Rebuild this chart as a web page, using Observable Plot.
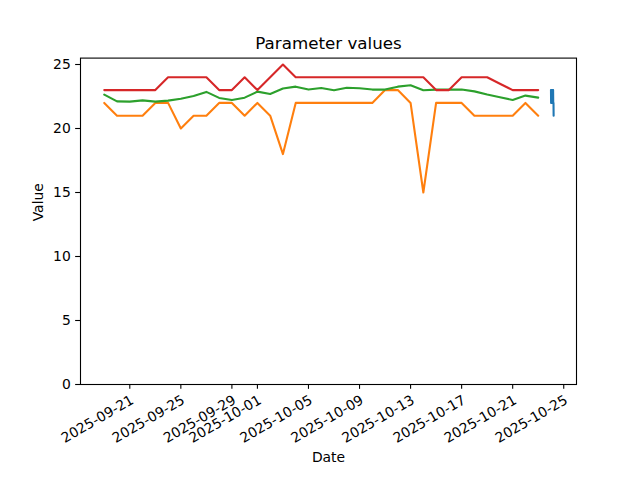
<!DOCTYPE html>
<html>
<head>
<meta charset="utf-8">
<script src="https://cdn.jsdelivr.net/npm/d3@7"></script>
<script src="https://cdn.jsdelivr.net/npm/@observablehq/plot@0.6"></script>
<style>
  html, body { margin: 0; padding: 0; background: #fff; }
  #chart svg { display: block; }
</style>
</head>
<body>
<div id="chart"></div>
<script>
// ---- Data ----
const days = [
  "2025-09-19","2025-09-20","2025-09-21","2025-09-22","2025-09-23","2025-09-24","2025-09-25",
  "2025-09-26","2025-09-27","2025-09-28","2025-09-29","2025-09-30","2025-10-01","2025-10-02",
  "2025-10-03","2025-10-04","2025-10-05","2025-10-06","2025-10-07","2025-10-08","2025-10-09",
  "2025-10-10","2025-10-11","2025-10-12","2025-10-13","2025-10-14","2025-10-15","2025-10-16",
  "2025-10-17","2025-10-18","2025-10-19","2025-10-20","2025-10-21","2025-10-22","2025-10-23"
];
const maxValues = [23,23,23,23,23,24,24,24,24,23,23,24,23,24,25,24,24,24,24,24,24,24,24,24,24,24,23,23,24,24,24,23.5,23,23,23];
const minValues = [22,21,21,21,22,22,20,21,21,22,22,21,22,21,18,22,22,22,22,22,22,22,23,23,22,15,22,22,22,21,21,21,21,22,21];
const meanValues = [22.65,22.12,22.1,22.2,22.1,22.18,22.33,22.54,22.86,22.39,22.23,22.41,22.88,22.7,23.12,23.27,23.04,23.16,22.99,23.19,23.14,23.04,23.04,23.27,23.38,22.99,23.04,23.04,23.04,22.9,22.65,22.44,22.23,22.57,22.41];

const rawTimes = [
  "2025-10-24T00:00Z","2025-10-24T00:15Z","2025-10-24T00:30Z","2025-10-24T00:45Z","2025-10-24T01:00Z",
  "2025-10-24T01:15Z","2025-10-24T01:30Z","2025-10-24T01:45Z","2025-10-24T02:00Z","2025-10-24T02:15Z",
  "2025-10-24T02:30Z","2025-10-24T02:45Z","2025-10-24T03:00Z","2025-10-24T03:15Z","2025-10-24T03:30Z",
  "2025-10-24T03:45Z","2025-10-24T04:00Z","2025-10-24T04:15Z","2025-10-24T04:30Z","2025-10-24T04:45Z",
  "2025-10-24T05:00Z"
];
const rawValues = [23,22,23,22,23,22,23,23,22,23,22,22,23,22,23,22,23,22,22,22,21];

const xTicks = ["2025-09-21","2025-09-25","2025-09-29","2025-10-01","2025-10-05","2025-10-09","2025-10-13","2025-10-17","2025-10-21","2025-10-25"];
const yTicks = [0,5,10,15,20,25];

const titleText = "Parameter values";
const xLabel = "Date";
const yLabel = "Value";

// ---- Build tables ----
const toDate = s => new Date(s.length === 10 ? s + "T00:00Z" : s);
const series = (vals) => days.map((d, i) => ({date: toDate(d), value: vals[i]}));
const maxData = series(maxValues);
const minData = series(minValues);
const meanData = series(meanValues);
const rawData = rawTimes.map((t, i) => ({date: toDate(t), value: rawValues[i]}));
const tickDates = xTicks.map(toDate);

const FONT = "DejaVu Sans, Liberation Sans, sans-serif";
const px = 12.5 * 100 / 72 / 1.25; // ~13.9 px (10pt at 100dpi)
const tickLen = 3.5 * 100 / 72;
const lw = 1.5 * 100 / 72;

const chart = Plot.plot({
  width: 640,
  height: 480,
  marginLeft: 80,
  marginRight: 64,
  marginTop: 57.6,
  marginBottom: 96,
  style: {fontFamily: FONT, fontSize: "13.9px", background: "#fff", color: "#000"},
  x: {type: "utc", domain: [new Date("2025-09-17T03:19Z"), new Date("2025-10-26T00:00Z")]},
  y: {domain: [0, 25.5]},
  marks: [
    Plot.line(rawData, {x: "date", y: "value", stroke: "#1f77b4", strokeWidth: lw}),
    Plot.line(minData, {x: "date", y: "value", stroke: "#ff7f0e", strokeWidth: lw}),
    Plot.line(meanData, {x: "date", y: "value", stroke: "#2ca02c", strokeWidth: lw}),
    Plot.line(maxData, {x: "date", y: "value", stroke: "#d62728", strokeWidth: lw}),
    Plot.frame({stroke: "#000", strokeWidth: 1.1}),
    Plot.axisY({ticks: yTicks, tickSize: tickLen, tickPadding: tickLen, label: null, fontSize: 13.9, strokeWidth: 1.1}),
    Plot.axisX({ticks: tickDates, tickSize: tickLen, tickFormat: () => "", label: null, strokeWidth: 1.1}),
    Plot.text(tickDates, {
      x: d => d, frameAnchor: "bottom", dy: tickLen * 2,
      text: d => d3.utcFormat("%Y-%m-%d")(d),
      textAnchor: "end", lineAnchor: "top", rotate: -30, fontSize: 13.9, fill: "#000"
    }),
    Plot.text([xLabel], {frameAnchor: "bottom", dy: 73, lineAnchor: "middle", fontSize: 13.9, fill: "#000"}),
    Plot.text([yLabel], {frameAnchor: "left", dx: -42, rotate: -90, lineAnchor: "middle", fontSize: 13.9, fill: "#000"}),
    Plot.text([titleText], {frameAnchor: "top", dy: -14.6, lineAnchor: "middle", fontSize: 16.7, fill: "#000"})
  ]
});
document.getElementById("chart").appendChild(chart);
</script>
</body>
</html>
